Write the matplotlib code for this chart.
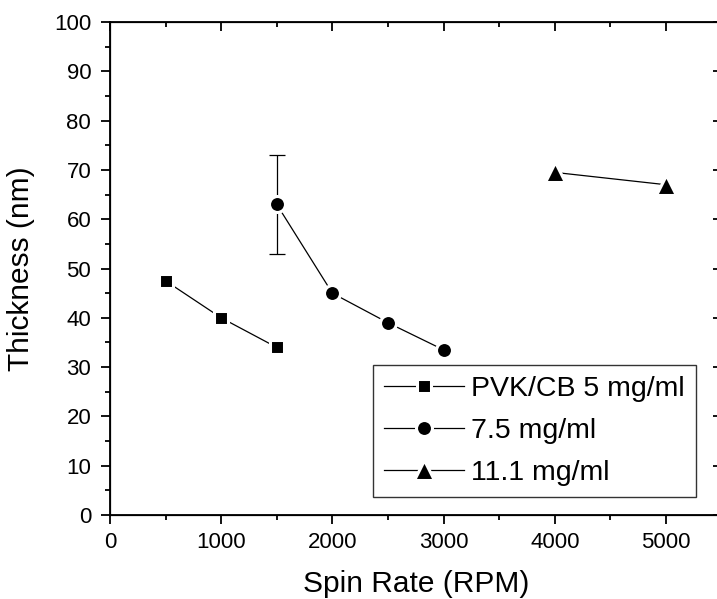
import matplotlib
matplotlib.use("Agg")
from matplotlib import pyplot as plt
from matplotlib.ticker import MultipleLocator

plt.rcParams["font.family"] = ["Liberation Sans", "DejaVu Sans"]

rpm_5 = [500, 1000, 1500]
thk_5 = [47.5, 40, 34]

rpm_75 = [1500, 2000, 2500, 3000]
thk_75 = [63, 45, 39, 33.5]
err_75 = [10, 0, 0, 0]

rpm_111 = [4000, 5000]
thk_111 = [69.5, 67]

labels = ["PVK/CB 5 mg/ml", "7.5 mg/ml", "11.1 mg/ml"]

# white marker rim gives the small gap between line and symbol
MK = dict(color="black", lw=0.9, mfc="black", mec="white", mew=2.2)


def set_ticks(axis_x, axis_y):
    axis_x.set_major_locator(MultipleLocator(1000))
    axis_x.set_minor_locator(MultipleLocator(500))
    axis_y.set_major_locator(MultipleLocator(10))
    axis_y.set_minor_locator(MultipleLocator(5))


def main():
    fig = plt.figure(figsize=(7.17, 5.99), dpi=100)
    # the right edge of the frame falls just outside the picture, as in the original
    ax = fig.add_axes([0.1534, 0.1402, 0.853, 0.823])

    ax.errorbar(rpm_75[:1], thk_75[:1], yerr=err_75[:1], fmt="none",
                ecolor="black", elinewidth=0.9, capsize=6, capthick=0.9)
    ax.plot(rpm_5, thk_5, marker="s", ms=10.5, label=labels[0], **MK)
    ax.plot(rpm_75, thk_75, marker="o", ms=11.5, label=labels[1], **MK)
    ax.plot(rpm_111, thk_111, marker="^", ms=14, label=labels[2], **MK)

    ax.set_xlim(0, 5500)
    ax.set_ylim(0, 100)
    set_ticks(ax.xaxis, ax.yaxis)

    for s in ax.spines.values():
        s.set_linewidth(1.3)
    ax.tick_params(which="both", direction="out", top=False, right=False,
                   width=1.3, labelsize=16)
    ax.tick_params(axis="y", pad=7)
    ax.tick_params(axis="x", pad=6)
    ax.tick_params(which="major", length=6.5)
    ax.tick_params(which="minor", length=3.5)

    # inward ticks on top and right
    ax2 = ax.twiny()
    ax2.set_xlim(ax.get_xlim())
    ax3 = ax.twinx()
    ax3.set_ylim(ax.get_ylim())
    set_ticks(ax2.xaxis, ax3.yaxis)
    set_ticks(ax3.xaxis, ax2.yaxis)
    ax2.tick_params(axis="x", which="both", direction="in", width=1.3, labeltop=False)
    ax3.tick_params(axis="y", which="both", direction="in", width=1.3, labelright=False)
    for a in (ax2, ax3):
        a.tick_params(which="major", length=6.5)
        a.tick_params(which="minor", length=3.5)

    ax.set_xlabel("Spin Rate (RPM)", fontsize=21.5, labelpad=12)
    ax.set_ylabel("Thickness (nm)", fontsize=21.5, labelpad=14)

    leg = ax.legend(loc="lower right",
                    bbox_to_anchor=(696 / 717, 1 - 497 / 599),
                    bbox_transform=fig.transFigure, fontsize=20.5, frameon=True,
                    fancybox=False, edgecolor="black", handlelength=2.8,
                    borderpad=0.4, labelspacing=0.55, handletextpad=0.25,
                    borderaxespad=0)
    leg.get_frame().set_linewidth(1.0)

    fig.savefig("out.png", dpi=100)


if __name__ == "__main__":
    main()
